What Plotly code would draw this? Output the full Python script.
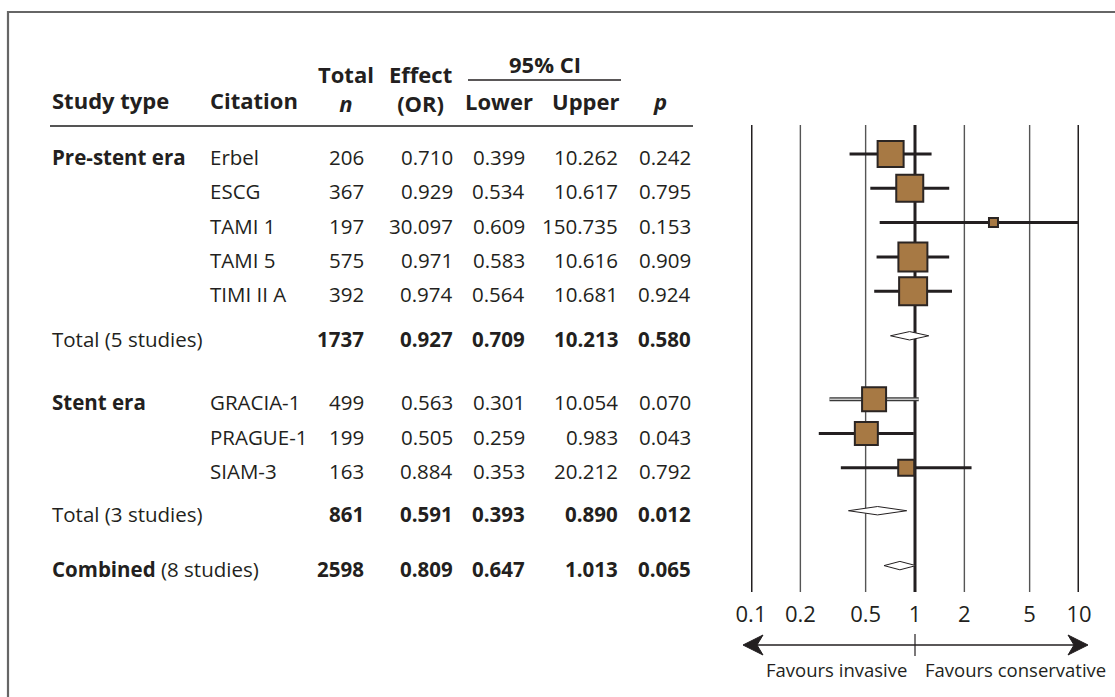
import plotly.graph_objects as go

W, H = 1115, 697
FONT = "Open Sans, Noto Sans, sans-serif"
INK = "#231f20"

# ---------------- data ----------------
study_type = ["Pre-stent era", "", "", "", "", "Total (5 studies)",
              "Stent era", "", "", "Total (3 studies)", "Combined"]
citation = ["Erbel", "ESCG", "TAMI 1", "TAMI 5", "TIMI II A", "",
            "GRACIA-1", "PRAGUE-1", "SIAM-3", "", ""]
n_text = ["206", "367", "197", "575", "392", "1737", "499", "199", "163", "861", "2598"]
eff_text = ["0.710", "0.929", "30.097", "0.971", "0.974", "0.927",
            "0.563", "0.505", "0.884", "0.591", "0.809"]
low_text = ["0.399", "0.534", "0.609", "0.583", "0.564", "0.709",
            "0.301", "0.259", "0.353", "0.393", "0.647"]
up_text = ["10.262", "10.617", "150.735", "10.616", "10.681", "10.213",
           "10.054", "0.983", "20.212", "0.890", "1.013"]
p_text = ["0.242", "0.795", "0.153", "0.909", "0.924", "0.580",
          "0.070", "0.043", "0.792", "0.012", "0.065"]
is_summary = [False, False, False, False, False, True, False, False, False, True, True]

# plotted odds ratios (as drawn in the forest panel)
or_plot = [0.710, 0.929, 3.0097, 0.971, 0.974, 0.927, 0.563, 0.505, 0.884, 0.591, 0.809]
lo_plot = [0.399, 0.534, 0.609, 0.583, 0.564, 0.709, 0.301, 0.259, 0.353, 0.393, 0.647]
hi_plot = [1.262, 1.617, 15.0735, 1.616, 1.681, 1.213, 1.054, 0.983, 2.212, 0.890, 1.013]
box_size = [26, 27, 9, 29, 28, 0, 24, 23, 16, 0, 0]

tick_vals = [0.1, 0.2, 0.5, 1, 2, 5, 10]
tick_text = ["0.1", "0.2", "0.5", "1", "2", "5", "10"]
thick_lines = [0.1, 1, 10]

# ---------------- layout helpers ----------------
row_slot = [0, 1, 2, 3, 4, 5.3, 7.15, 8.15, 9.15, 10.4, 12.0]
TOP_PX, ROW_PX = 154.0, 34.3


def py(px):  # pixel y -> y data units
    return (px - TOP_PX) / ROW_PX


def fx(px):  # pixel x -> paper
    return px / W


def fy(px):  # pixel y -> paper
    return 1 - px / H


fig = go.Figure()

# vertical reference lines
for v in tick_vals:
    thick = v in thick_lines
    fig.add_trace(go.Scatter(x=[v, v], y=[py(125), py(592)], mode="lines",
                             line=dict(color=INK if thick else "#555555", width=3 if thick else 1.4),
                             hoverinfo="skip", showlegend=False))

# whiskers for individual studies
for i in range(len(row_slot)):
    if is_summary[i]:
        continue
    y = row_slot[i]
    if citation[i] == "GRACIA-1":
        fig.add_trace(go.Scatter(x=[lo_plot[i], hi_plot[i]], y=[y, y], mode="lines",
                                 line=dict(color="#3a3a3a", width=4), hoverinfo="skip", showlegend=False))
        fig.add_trace(go.Scatter(x=[lo_plot[i], hi_plot[i]], y=[y, y], mode="lines",
                                 line=dict(color="#c8c8c8", width=1.6), hoverinfo="skip", showlegend=False))
    else:
        fig.add_trace(go.Scatter(x=[lo_plot[i], hi_plot[i]], y=[y, y], mode="lines",
                                 line=dict(color=INK, width=3), hoverinfo="skip", showlegend=False))

# boxes
idx = [i for i in range(len(row_slot)) if not is_summary[i]]
fig.add_trace(go.Scatter(x=[or_plot[i] for i in idx], y=[row_slot[i] for i in idx], mode="markers",
                         marker=dict(symbol="square", size=[box_size[i] for i in idx], color="#a77944",
                                     opacity=1, line=dict(color="#2b2523", width=2)),
                         hoverinfo="skip", showlegend=False))

# diamonds for pooled estimates
dh = 4.2 / ROW_PX
for i in range(len(row_slot)):
    if not is_summary[i]:
        continue
    y = row_slot[i]
    fig.add_trace(go.Scatter(x=[lo_plot[i], or_plot[i], hi_plot[i], or_plot[i], lo_plot[i]],
                             y=[y, y - dh, y, y + dh, y], mode="lines", fill="toself",
                             fillcolor="white", line=dict(color=INK, width=1),
                             hoverinfo="skip", showlegend=False))

# tick labels
fig.add_trace(go.Scatter(x=tick_vals, y=[py(616)] * len(tick_vals), mode="text", text=tick_text,
                         textfont=dict(family=FONT, size=22, color=INK), textposition="middle center",
                         cliponaxis=False, hoverinfo="skip", showlegend=False))

# ---------------- table text ----------------
ann = []
DS = 20.5
HS = 22


def txt(s, xpx, ypos, anchor="left", size=DS, bold=False, italic=False, align="left"):
    if bold:
        s = "<b>" + s + "</b>"
    if italic:
        s = "<i>" + s + "</i>"
    ann.append(dict(text=s, x=fx(xpx), xref="paper", y=ypos, yref="y", xanchor=anchor, align=align,
                    yanchor="middle", showarrow=False, font=dict(family=FONT, size=size, color=INK)))


txt("Study type", 50, py(100), size=HS, bold=True)
txt("Citation", 208, py(100), size=HS, bold=True)
txt("<b>Total</b><br><b><i>n</i></b>", 346, py(88), "center", size=HS, align="center")
txt("<b>Effect</b><br><b>(OR)</b>", 420, py(88), "center", size=HS, align="center")
txt("95% CI", 545, py(64), "center", size=HS, bold=True)
txt("Lower", 535, py(101), "right", size=HS, bold=True)
txt("Upper", 621, py(101), "right", size=HS, bold=True)
txt("p", 660, py(101), "center", size=HS, bold=True, italic=True)

col_right = [366, 455, 527, 620, 693]
for i in range(len(row_slot)):
    y = row_slot[i] + 3 / ROW_PX
    st = study_type[i]
    if st == "Combined":
        ann.append(dict(text="<b>Combined</b> (8 studies)", x=fx(50), xref="paper", y=y, yref="y",
                        xanchor="left", yanchor="middle", showarrow=False,
                        font=dict(family=FONT, size=DS, color=INK)))
    elif st:
        txt(st, 50, y, bold=not st.startswith("Total"))
    if citation[i]:
        txt(citation[i], 208, y)
    vals = [n_text[i], eff_text[i], low_text[i], up_text[i], p_text[i]]
    for v, xr in zip(vals, col_right):
        txt(v, xr, y, "right", bold=is_summary[i])

ann.append(dict(text="Favours invasive", x=fx(836), xref="paper", y=fy(669), yref="paper",
                xanchor="center", yanchor="middle", showarrow=False,
                font=dict(family=FONT, size=18.5, color=INK)))
ann.append(dict(text="Favours conservative", x=fx(1015), xref="paper", y=fy(669), yref="paper",
                xanchor="center", yanchor="middle", showarrow=False,
                font=dict(family=FONT, size=18.5, color=INK)))

# ---------------- shapes ----------------
shapes = [
    # frame
    dict(type="rect", xref="paper", yref="paper", x0=fx(8), x1=1.02, y0=-0.02, y1=fy(12),
         line=dict(color="#666666", width=2.2), layer="below"),
    # 95% CI rule
    dict(type="line", xref="paper", yref="paper", x0=fx(468), x1=fx(621), y0=fy(80), y1=fy(80),
         line=dict(color=INK, width=1.4)),
    # header rule
    dict(type="line", xref="paper", yref="paper", x0=fx(50), x1=fx(693), y0=fy(126), y1=fy(126),
         line=dict(color="#555555", width=2)),
    # arrow shaft
    dict(type="line", xref="paper", yref="paper", x0=fx(752), x1=fx(1080), y0=fy(645), y1=fy(645),
         line=dict(color=INK, width=1.4)),
    # centre tick
    dict(type="line", xref="paper", yref="paper", x0=fx(915), x1=fx(915), y0=fy(634), y1=fy(656),
         line=dict(color=INK, width=1.2)),
]


def arrow_head(tip, direction):
    back = tip + direction * 20
    notch = tip + direction * 14
    path = "M {} {} L {} {} L {} {} L {} {} Z".format(
        fx(tip), fy(645), fx(back), fy(635), fx(notch), fy(645), fx(back), fy(655))
    return dict(type="path", xref="paper", yref="paper", path=path,
                fillcolor=INK, line=dict(color=INK, width=1))


shapes.append(arrow_head(743, 1))
shapes.append(arrow_head(1088, -1))

fig.update_layout(
    width=W, height=H, margin=dict(l=0, r=0, t=0, b=0),
    paper_bgcolor="white", plot_bgcolor="white",
    xaxis=dict(type="log", range=[-1, 1], domain=[fx(751), fx(1079)], visible=False),
    yaxis=dict(range=[py(H), py(0)], domain=[0, 1], visible=False),
    annotations=ann, shapes=shapes, showlegend=False,
)

fig.write_html("out.html", config={"displayModeBar": False},
               post_script="document.body.style.margin='0';")
